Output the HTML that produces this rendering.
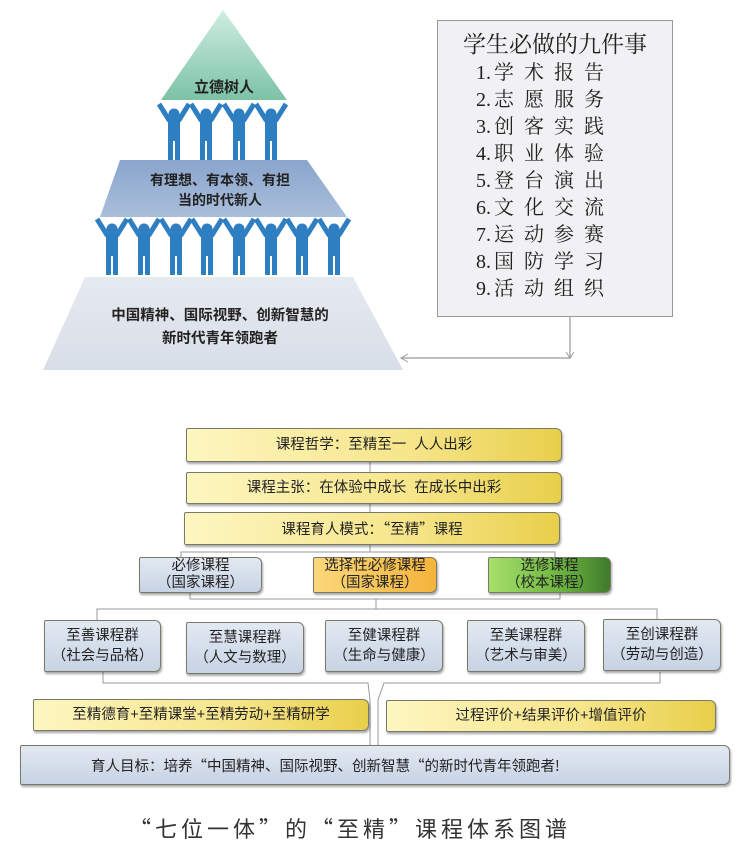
<!DOCTYPE html>
<html><head><meta charset="utf-8">
<style>
body{margin:0;width:750px;height:853px;background:#fff;position:relative;overflow:hidden;font-family:"Liberation Sans","Noto Sans CJK SC",sans-serif;}
.b{position:absolute;box-sizing:border-box;border:1px solid #7a7a6a;border-radius:2px 6px 6px 2px;box-shadow:1px 2px 2px rgba(0,0,0,.35);display:flex;align-items:center;justify-content:center;text-align:center;color:#222;font-size:14.5px;line-height:19px;}
.y{background:linear-gradient(to right,#fdf6c0,#f6e58a 60%,#e8cf4a);}
.g{background:linear-gradient(to bottom,#e2e9f2,#c7d3e4);}
.o{background:linear-gradient(to right,#fbd77a,#f4b43a);}
.gr{background:linear-gradient(to right,#a6e06a,#6cb440 60%,#3f7a2a);}
.t{position:absolute;text-align:center;font-weight:bold;color:#222;}
.l span{letter-spacing:0;margin-right:3px}
</style></head><body>
<svg width="750" height="853" style="position:absolute;left:0;top:0">
<defs>
<linearGradient id="tg" x1="0" y1="0" x2="0" y2="1"><stop offset="0" stop-color="#cfeee0"/><stop offset="1" stop-color="#7cc2a6"/></linearGradient>
<linearGradient id="mg" x1="0" y1="0" x2="0" y2="1"><stop offset="0" stop-color="#8aa5cc"/><stop offset="1" stop-color="#a9bedb"/></linearGradient>
<linearGradient id="bg" x1="0" y1="0" x2="0" y2="1"><stop offset="0" stop-color="#e6eaf0"/><stop offset="1" stop-color="#d8dee8"/></linearGradient>
<g id="p" fill="#2e7fc1">
<polyline points="-15,0 -5,16 5,16 15,0" fill="none" stroke="#2e7fc1" stroke-width="5" stroke-linejoin="round"/>
<circle cx="0" cy="10" r="5.5"/>
<rect x="-6" y="15" width="12" height="22" rx="2"/>
<rect x="-6" y="35" width="5" height="21"/>
<rect x="1" y="35" width="5" height="21"/>
</g>
</defs>
<polygon points="223,10 287,100 161,100" fill="url(#tg)"/>
<polygon points="120,160 307,160 347,217 100,217" fill="url(#mg)"/>
<polygon points="85,277 353,277 403,370 43,370" fill="url(#bg)"/>
<use href="#p" x="174" y="104"/><use href="#p" x="206" y="104"/><use href="#p" x="239" y="104"/><use href="#p" x="271" y="104"/>
<use href="#p" x="112" y="219"/><use href="#p" x="144" y="219"/><use href="#p" x="176" y="219"/><use href="#p" x="207" y="219"/><use href="#p" x="239" y="219"/><use href="#p" x="271" y="219"/><use href="#p" x="302" y="219"/><use href="#p" x="334" y="219"/>
<rect x="437.5" y="20.5" width="235" height="296" fill="#f1f1f3" stroke="#999"/>
<polyline points="570,316 570,358 402,358" fill="none" stroke="#999" stroke-width="1.2"/>
<polyline points="408,354 401,358 408,362" fill="none" stroke="#999"/>
<polyline points="566,352 570,358 574,352" fill="none" stroke="#999"/>
<g fill="none" stroke="#999" stroke-width="1">
<line x1="370" y1="462" x2="370" y2="472"/>
<line x1="370" y1="504" x2="370" y2="512"/>
<polyline points="181,557 181,552 555,552 555,557"/>
<line x1="370" y1="545" x2="370" y2="552"/>
<polyline points="190,593 190,599 560,599 560,593"/>
<line x1="376" y1="599" x2="376" y2="609"/>
<polyline points="97,620 97,609 657,609 657,620"/>
<polyline points="103,672 103,683 368,683 370,700 370,745"/>
<polyline points="660,672 660,683 384,683 378,700 378,745"/>
</g>
</svg>
<div class="t" style="left:160px;top:76px;width:128px;font-size:15px">立德树人</div>
<div class="t" style="left:110px;top:170px;width:220px;font-size:14px;line-height:20px">有理想、有本领、有担<br>当的时代新人</div>
<div class="t" style="left:60px;top:305px;width:320px;font-size:14.5px;line-height:23px">中国精神、国际视野、创新智慧的<br>新时代青年领跑者</div>
<div style="position:absolute;left:437px;top:26px;width:236px;text-align:center;font-family:'Liberation Serif','Noto Serif CJK SC',serif;font-size:23px;color:#222">学生必做的九件事</div>
<div class="l" style="position:absolute;left:476px;top:60px;font-family:'Liberation Serif','Noto Serif CJK SC',serif;font-size:20px;line-height:27px;letter-spacing:10px;color:#222;white-space:nowrap"><span>1.</span>学术报告<br><span>2.</span>志愿服务<br><span>3.</span>创客实践<br><span>4.</span>职业体验<br><span>5.</span>登台演出<br><span>6.</span>文化交流<br><span>7.</span>运动参赛<br><span>8.</span>国防学习<br><span>9.</span>活动组织</div>
<div class="b y" style="left:186px;top:428px;width:376px;height:34px">课程哲学：至精至一&nbsp;&nbsp;人人出彩</div>
<div class="b y" style="left:186px;top:472px;width:376px;height:32px">课程主张：在体验中成长&nbsp;&nbsp;在成长中出彩</div>
<div class="b y" style="left:184px;top:512px;width:376px;height:33px;font-family:'Noto Sans CJK SC',sans-serif">课程育人模式：“至精”课程</div>
<div class="b g" style="left:139px;top:557px;width:123px;height:36px;line-height:17px">必修课程<br>（国家课程）</div>
<div class="b o" style="left:313px;top:557px;width:124px;height:36px;line-height:17px">选择性必修课程<br>（国家课程）</div>
<div class="b gr" style="left:488px;top:557px;width:123px;height:36px;line-height:17px">选修课程<br>（校本课程）</div>
<div class="b g" style="left:44px;top:620px;width:117px;height:52px;line-height:20px">至善课程群<br>（社会与品格）</div>
<div class="b g" style="left:186px;top:622px;width:118px;height:52px;line-height:20px">至慧课程群<br>（人文与数理）</div>
<div class="b g" style="left:325px;top:620px;width:118px;height:52px;line-height:20px">至健课程群<br>（生命与健康）</div>
<div class="b g" style="left:467px;top:620px;width:118px;height:52px;line-height:20px">至美课程群<br>（艺术与审美）</div>
<div class="b g" style="left:603px;top:619px;width:118px;height:52px;line-height:20px">至创课程群<br>（劳动与创造）</div>
<div class="b y" style="left:33px;top:699px;width:336px;height:32px">至精德育+至精课堂+至精劳动+至精研学</div>
<div class="b y" style="left:386px;top:700px;width:330px;height:32px">过程评价+结果评价+增值评价</div>
<div class="b g" style="left:20px;top:745px;width:710px;height:40px;justify-content:flex-start;padding-left:70px;font-family:'Noto Sans CJK SC',sans-serif">育人目标：培养“中国精神、国际视野、创新智慧“的新时代青年领跑者!</div>
<div style="position:absolute;left:80px;top:812px;width:540px;text-align:center;font-family:'Noto Sans CJK SC',sans-serif;font-size:22px;letter-spacing:4px;color:#333">“七位一体”的“至精”课程体系图谱</div>
</body></html>
